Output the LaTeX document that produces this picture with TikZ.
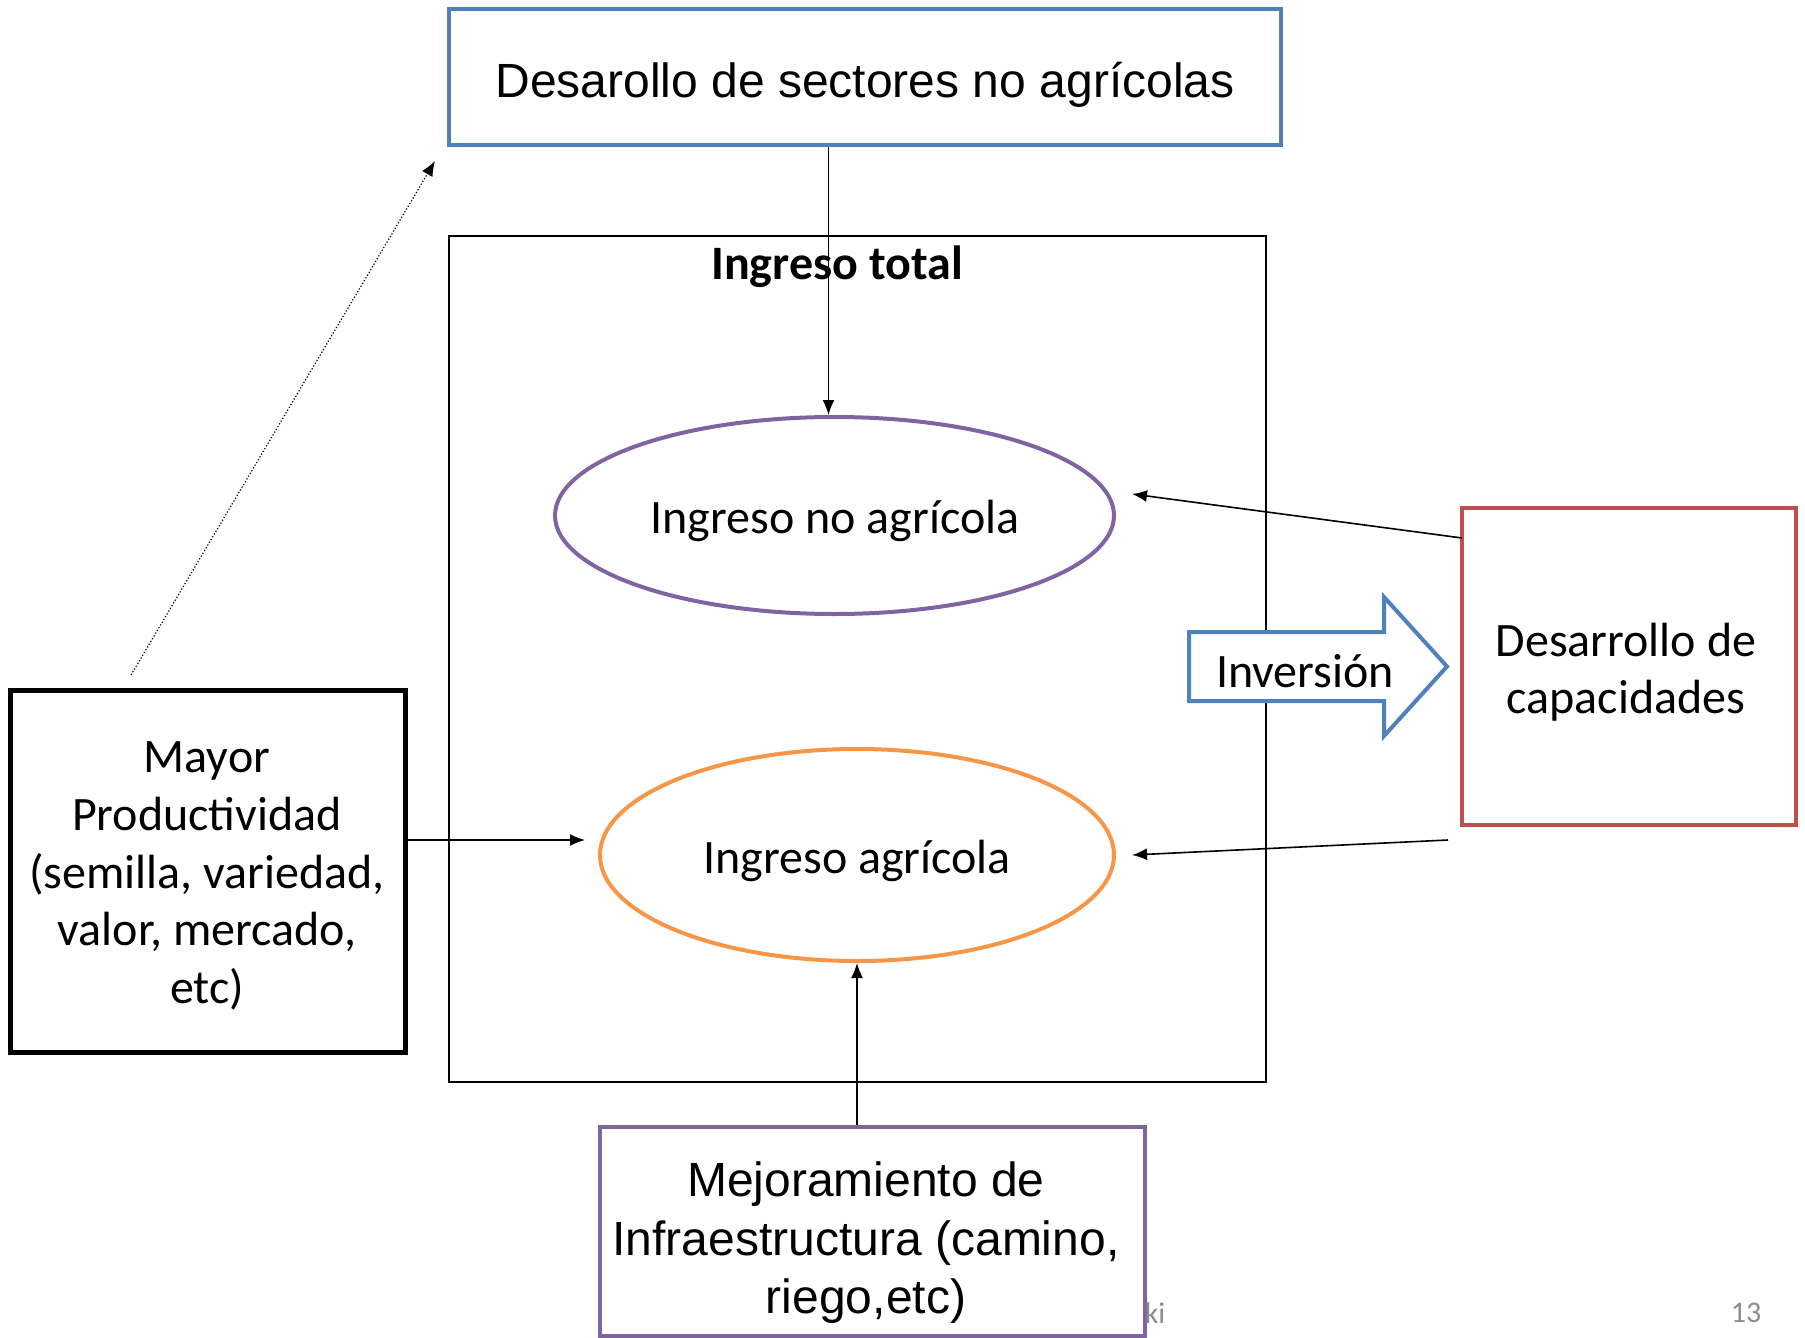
\documentclass[tikz,border=0pt]{standalone}
\usepackage{fontspec}
\setmainfont{Carlito}
\newfontfamily\arialf{Liberation Sans}
\usetikzlibrary{shapes.geometric,arrows.meta}
\definecolor{cblue}{HTML}{4F81BD}
\definecolor{cpurple}{HTML}{8064A2}
\definecolor{corange}{HTML}{F79646}
\definecolor{cred}{HTML}{C0504D}
\definecolor{cgrey}{HTML}{8C8C8C}
\tikzset{
  arr/.style={line width=1.6pt,-{Latex[length=15pt,width=12pt]}},
  calib/.style={font=\fontsize{48}{57.6}\selectfont,inner sep=0pt,align=center},
  arialt/.style={font=\arialf\fontsize{48}{58.5}\selectfont,inner sep=0pt,align=center},
  ell/.style={ellipse,line width=4pt,inner sep=0pt},
  foot/.style={font=\fontsize{30}{36}\selectfont,text=cgrey,inner sep=0pt}
}
\begin{document}
\begin{tikzpicture}[x=1pt,y=-1pt]
\useasboundingbox (0,0) rectangle (1805,1338);
% outer total box
\node[draw,line width=1.6pt,minimum width=817pt,minimum height=846pt,inner sep=0pt] (total) at (857.5,659) {};
\node[calib,font=\bfseries\fontsize{48}{57.6}\selectfont] (totlab) at (837,267) {Ingreso total};
% top box
\node[draw=cblue,line width=4.5pt,fill=white,minimum width=832pt,minimum height=136pt,inner sep=0pt] (top) at (865,77) {};
\node[arialt] (toptext) at (865,85) {Desarollo de sectores no agrícolas};
% ellipses
\node[ell,draw=cpurple,minimum width=559pt,minimum height=197pt] (e1) at (834.5,515.5) {};
\node[calib] (e1t) at (835,521) {Ingreso no agrícola};
\node[ell,draw=corange,minimum width=514pt,minimum height=212pt] (e2) at (857,855) {};
\node[calib] (e2t) at (857,861) {Ingreso agrícola};
% left box
\node[draw,line width=5pt,minimum width=395pt,minimum height=362pt,inner sep=0pt] (mayor) at (207.5,871) {};
\node[calib] (mayort) at (207,876) {Mayor\\Productividad\\(semilla, variedad,\\valor, mercado,\\etc)};
% right box
\node[draw=cred,line width=4.5pt,minimum width=334pt,minimum height=317pt,inner sep=0pt] (cap) at (1629,666.5) {};
\node[calib] (capt) at (1626,672) {Desarrollo de\\capacidades};
% bottom box
\node[draw=cpurple,line width=4.5pt,fill=white,minimum width=545pt,minimum height=209pt,inner sep=0pt] (mej) at (872.5,1231.5) {};
\node[arialt] (mejt) at (866,1243) {Mejoramiento de\\Infraestructura (camino,\\riego,etc)};
% Inversion block arrow
\draw[cblue,line width=4pt,fill=white,line join=miter] (1189,632) -- (1384,632) -- (1384,597) -- (1447,666.5) -- (1384,736) -- (1384,701) -- (1189,701) -- cycle;
\node[calib] (inv) at (1305,671) {Inversión};
% coordinates
\coordinate (dstart) at (131,675);
\coordinate (dend) at (435,161);
\coordinate (m1) at (405,840);
\coordinate (m2) at (585,840);
\coordinate (c1) at (1462,538);
\coordinate (c2) at (1132,494);
\coordinate (c3) at (1448,840);
\coordinate (c4) at (1132,855);
\coordinate (v1) at ([xshift=-6pt]top.south -| e1.north);
\coordinate (v2) at ([xshift=-6pt]e1.north);
% connectors
\draw[arr] (v1) -- (v2);
\draw[arr,line width=1.2pt,dotted] (dstart) -- (dend);
\draw[arr] (m1) -- (m2);
\draw[arr] (c1) -- (c2);
\draw[arr] (c3) -- (c4);
\draw[arr] (mej.north -| e2.south) -- (e2.south);
% footer
\node[foot] (ki) at (1155,1313) {ki};
\node[foot] (pg) at (1746,1313) {13};
\end{tikzpicture}
\end{document}
